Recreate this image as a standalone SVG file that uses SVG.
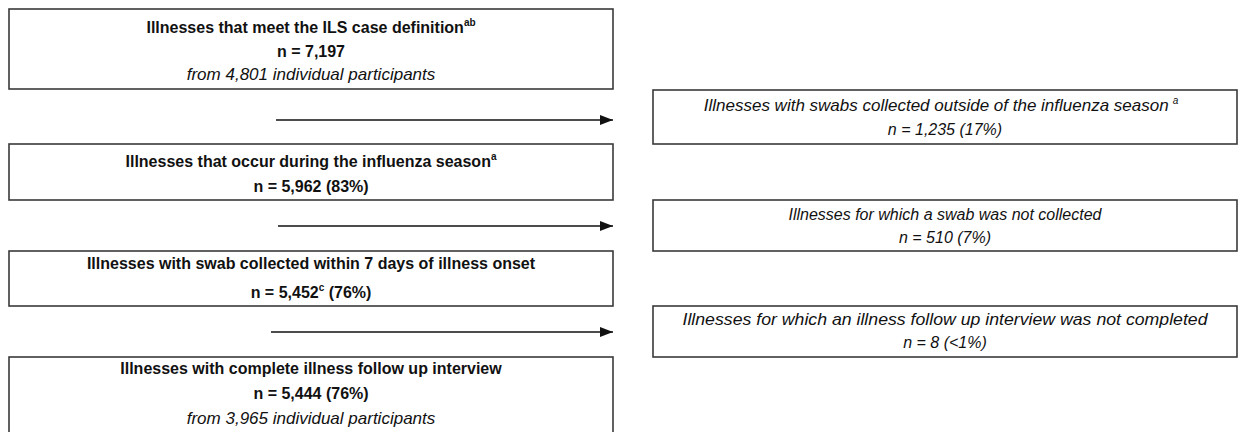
<svg xmlns="http://www.w3.org/2000/svg" width="1240" height="432" viewBox="0 0 1240 432">
<style>
.box{fill:#fff;stroke:#3a3a3a;stroke-width:1.6}
.t{font-family:"Liberation Sans",Arial,sans-serif;font-size:16px;fill:#111;text-anchor:middle}
.b{font-weight:bold}
.i{font-style:italic}
.l{font-size:17px}
.sup{font-size:10px}
.conn{stroke:#111;stroke-width:1.6;fill:none}
</style>
<defs>
<marker id="ah" markerWidth="13" markerHeight="10" refX="13" refY="5" orient="auto" markerUnits="userSpaceOnUse">
<path d="M0,0 L13,5 L0,10 Z" fill="#111"/>
</marker>
</defs>
<rect width="1240" height="432" fill="#fff"/>
<g id="connectors">
<line class="conn" x1="276" y1="120" x2="613" y2="120" marker-end="url(#ah)"/>
<line class="conn" x1="278" y1="226" x2="613" y2="226" marker-end="url(#ah)"/>
<line class="conn" x1="271" y1="332" x2="613" y2="332" marker-end="url(#ah)"/>
</g>
<g id="n1">
<rect class="box" x="9" y="9" width="604" height="80"/>
<text class="t b" x="311" y="33">Illnesses that meet the ILS case definition<tspan class="sup" dy="-7">ab</tspan></text>
<text class="t b" x="311" y="57">n = 7,197</text>
<text class="t i l" x="311" y="80">from 4,801 individual participants</text>
</g>
<g id="n2">
<rect class="box" x="9" y="144" width="604" height="56"/>
<text class="t b" x="311" y="167">Illnesses that occur during the influenza season<tspan class="sup" dy="-7">a</tspan></text>
<text class="t b" x="311" y="192">n = 5,962 (83%)</text>
</g>
<g id="n3">
<rect class="box" x="9" y="251" width="604" height="55"/>
<text class="t b" x="311" y="269">Illnesses with swab collected within 7 days of illness onset</text>
<text class="t b" x="311" y="298">n = 5,452<tspan class="sup" dy="-7">c</tspan><tspan dy="7"> (76%)</tspan></text>
</g>
<g id="n4">
<rect class="box" x="9" y="357" width="604" height="90"/>
<text class="t b" x="311" y="374">Illnesses with complete illness follow up interview</text>
<text class="t b" x="311" y="399">n = 5,444 (76%)</text>
<text class="t i l" x="311" y="424">from 3,965 individual participants</text>
</g>
<g id="r1">
<rect class="box" x="653" y="90" width="584" height="54"/>
<text class="t i l" x="941" y="111">Illnesses with swabs collected outside of the influenza season<tspan class="sup" dx="4" dy="-7">a</tspan></text>
<text class="t i" x="945" y="135">n = 1,235 (17%)</text>
</g>
<g id="r2">
<rect class="box" x="653" y="200" width="584" height="51"/>
<text class="t i" x="945" y="220">Illnesses for which a swab was not collected</text>
<text class="t i" x="945" y="243">n = 510 (7%)</text>
</g>
<g id="r3">
<rect class="box" x="653" y="306" width="584" height="51"/>
<text class="t i l" x="945" y="325" textLength="525" lengthAdjust="spacingAndGlyphs">Illnesses for which an illness follow up interview was not completed</text>
<text class="t i" x="945" y="348">n = 8 (&lt;1%)</text>
</g>
</svg>
